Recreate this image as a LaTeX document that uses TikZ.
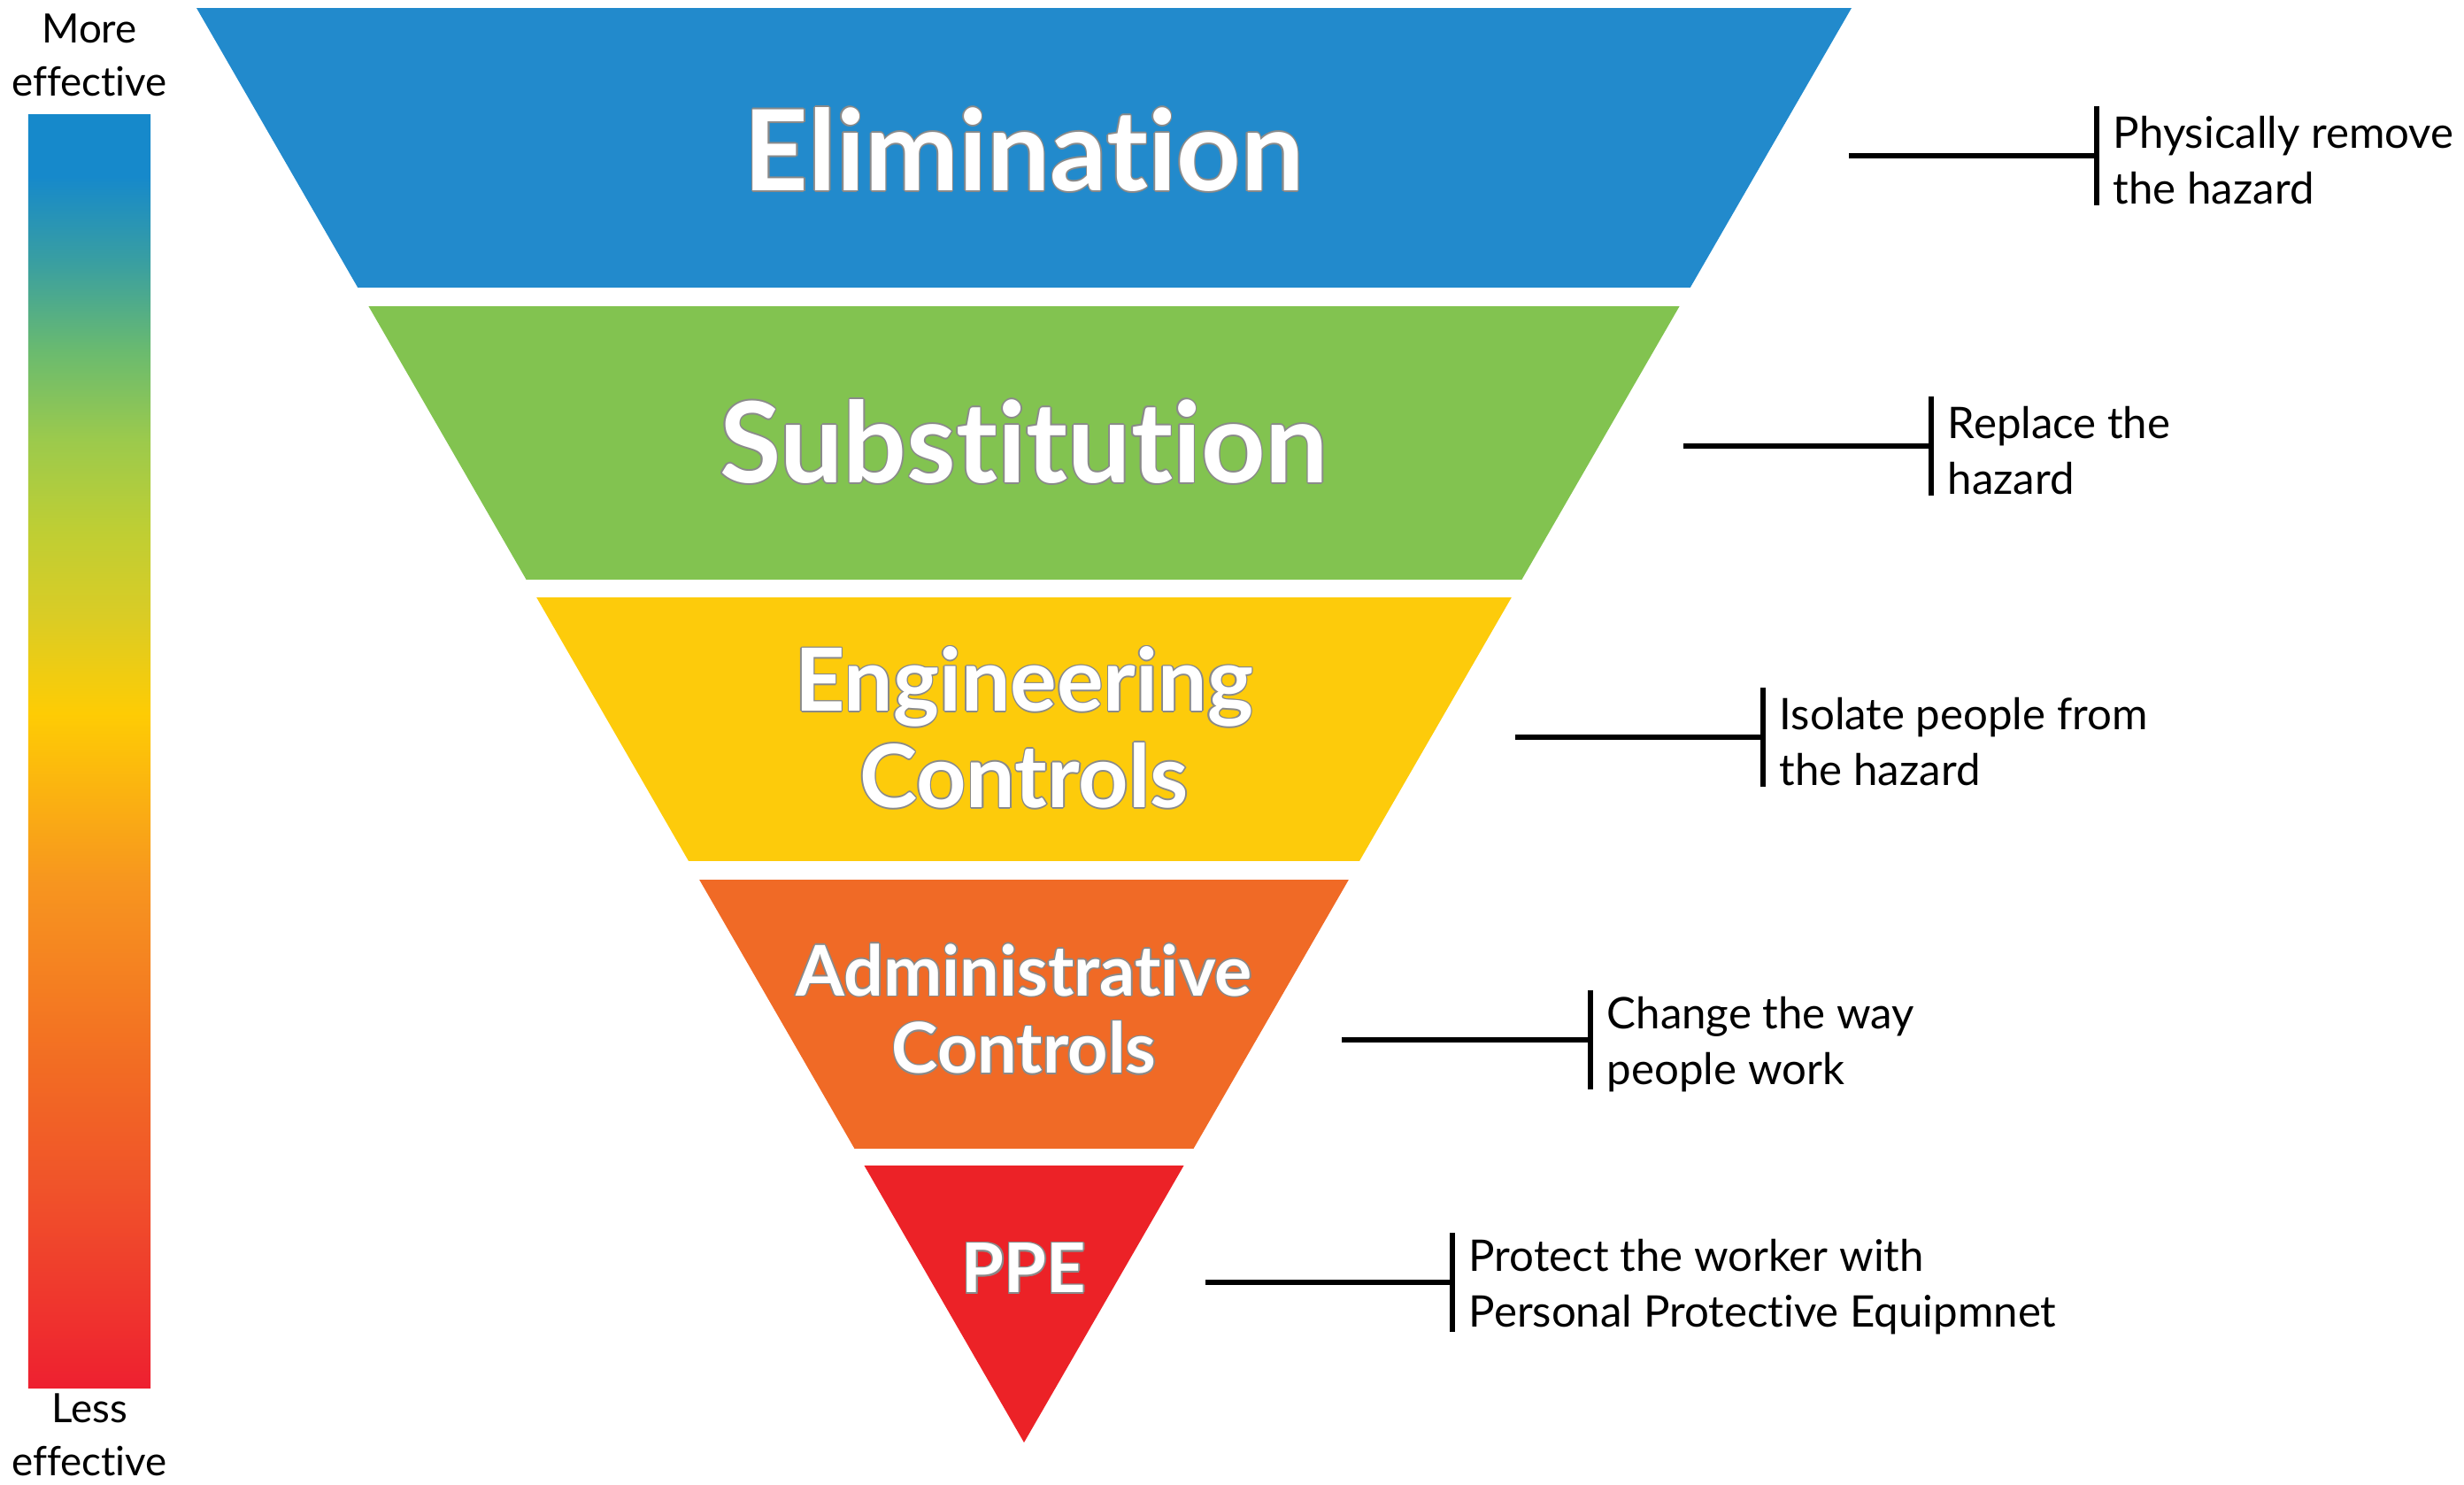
\documentclass[tikz,border=0pt]{standalone}
\usepackage{fontspec}
\setmainfont{Lato}[Ligatures=NoCommon]
\usetikzlibrary{positioning}

\definecolor{elimblue}{HTML}{228ACC}
\definecolor{substgreen}{HTML}{82C350}
\definecolor{engyellow}{HTML}{FDCB0B}
\definecolor{adminorange}{HTML}{F06A26}
\definecolor{ppered}{HTML}{EC2227}
\definecolor{outlinegray}{HTML}{8A8A8A}
% colours of the effectiveness bar
\definecolor{barA}{HTML}{EE2030}
\definecolor{barB}{HTML}{F0532A}
\definecolor{barC}{HTML}{F26C23}
\definecolor{barD}{HTML}{F7951F}
\definecolor{barE}{HTML}{FECC04}
\definecolor{barF}{HTML}{DACC25}
\definecolor{barG}{HTML}{BECE34}
\definecolor{barH}{HTML}{9CCA4C}
\definecolor{barI}{HTML}{6BBB6E}
\definecolor{barJ}{HTML}{3A9FA0}
\definecolor{barK}{HTML}{1689CB}

\pgfdeclareverticalshading{effshade}{100bp}{
  color(0bp)=(barA); color(25bp)=(barA); color(32.9bp)=(barB);
  color(37.65bp)=(barC); color(44.8bp)=(barD); color(51.5bp)=(barE);
  color(55.3bp)=(barF); color(58.75bp)=(barG); color(62.2bp)=(barH);
  color(65.65bp)=(barI); color(69.15bp)=(barJ); color(72.6bp)=(barK);
  color(75bp)=(barK); color(100bp)=(barK)}

% white letters with a thin grey rim
\newcommand{\outlined}[1]{\leavevmode\rlap{\color{outlinegray}%
  \rlap{\kern.45pt#1}\rlap{\kern-.45pt#1}%
  \rlap{\raisebox{.45pt}{#1}}\rlap{\raisebox{-.45pt}{#1}}%
  \rlap{\kern.32pt\raisebox{.32pt}{#1}}\rlap{\kern-.32pt\raisebox{.32pt}{#1}}%
  \rlap{\kern.32pt\raisebox{-.32pt}{#1}}\rlap{\kern-.32pt\raisebox{-.32pt}{#1}}}#1}

\begin{document}
\begin{tikzpicture}[
band/.style={
  font=\fontsize{36}{40}\selectfont\bfseries,
  text=white,
  align=center,
  inner sep=0pt
  },
desc/.style={
  font=\fontsize{14}{18}\selectfont,
  align=left,
  inner sep=0pt
  },
effbar/.style={
  shading=effshade,
  minimum width=1.38cm,
  minimum height=14.38cm,
  inner sep=0pt
  },
bracket/.style={line width=1.6pt}
]
\useasboundingbox (0,0) rectangle (27.84,16.77);

\coordinate (tl) at (2.22,16.68);
\coordinate (tr) at (20.92,16.68);
\coordinate (apex) at (11.57,0.47);
\begin{scope}
\clip (tl) -- (tr) -- (apex) -- cycle;
\foreach \Top/\Bot/\Col in {16.68/13.52/elimblue,13.31/10.22/substgreen,
  10.02/7.04/engyellow,6.83/3.79/adminorange,3.60/0.40/ppered}
  \fill[\Col] (2,\Bot) rectangle (21,\Top);
\end{scope}

\node[band] (elim) at (11.57,15.08) {\outlined{Elimination}};
\node[band] (subst) at (11.57,11.78) {\outlined{Substitution}};
\node[band,font=\fontsize{28}{31}\selectfont\bfseries] (eng) at (11.57,8.55)
  {\outlined{Engineering}\\\outlined{Controls}};
\node[band,font=\fontsize{22.5}{25}\selectfont\bfseries] (admin) at (11.57,5.37)
  {\outlined{Administrative}\\\outlined{Controls}};
\node[band,font=\fontsize{22}{25}\selectfont\bfseries] (ppe) at (11.57,2.44)
  {\outlined{PPE}};

% what each level does
\foreach \n/\sx/\bx/\y/\txt in {
  1/20.89/23.69/15.01/{Physically remove\\the hazard},
  2/19.02/21.82/11.73/{Replace the\\hazard},
  3/17.12/19.92/8.44/{Isolate people from\\the hazard},
  4/15.16/17.97/5.02/{Change the way\\people work},
  5/13.62/16.41/2.28/{Protect the worker with\\Personal Protective Equipmnet}}
{
  \coordinate (s\n) at (\sx,\y);
  \coordinate (b\n) at (\bx,\y);
  \draw[bracket] (s\n) -- (b\n);
  \draw[bracket] ([yshift=5.6mm]b\n) -- ([yshift=-5.6mm]b\n);
  \node[desc,right=1.8mm of b\n,yshift=-0.5mm] (d\n) {\txt};
}

\node[effbar] (bar) at (1.01,8.28) {};
\node[desc,align=center,font=\fontsize{13}{17}\selectfont] (more) at (1.01,16.15) {More\\effective};
\node[desc,align=center,font=\fontsize{13}{17}\selectfont] (less) at (1.01,0.56) {Less\\effective};
\end{tikzpicture}
\end{document}
